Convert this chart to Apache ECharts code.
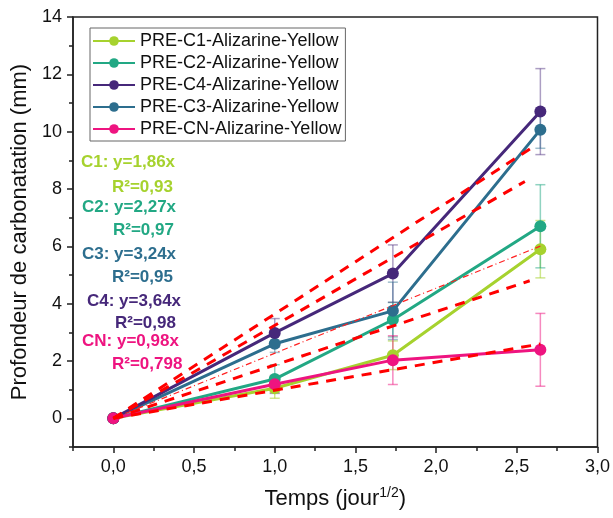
<!DOCTYPE html>
<html><head><meta charset="utf-8">
<script src="https://cdn.jsdelivr.net/npm/echarts@6/dist/echarts.min.js"></script>
<style>html,body{margin:0;padding:0;background:#fff}#c{width:613px;height:518px}</style>
</head><body><div id="c"></div>
<script>
// ---- data ----
const times = [0, 1, 1.732, 2.646];
const names = ['PRE-C1-Alizarine-Yellow','PRE-C2-Alizarine-Yellow','PRE-C4-Alizarine-Yellow','PRE-C3-Alizarine-Yellow','PRE-CN-Alizarine-Yellow'];
const c1 = [0, 1.05, 2.2, 5.9];
const c2 = [0, 1.37, 3.44, 6.7];
const c4 = [0, 2.98, 5.05, 10.7];
const c3 = [0, 2.6, 3.75, 10.07];
const cn = [0, 1.19, 2.03, 2.39];
const c1Err = [0, 0.35, 0.5, 1.0];
const c2Err = [0, 0.5, 0.6, 1.45];
const c4Err = [0, 0.5, 1.0, 1.5];
const c3Err = [0, 0.3, 1.0, 0.65];
const cnErr = [0, 0.3, 0.85, 1.27];
const fitSlopes = [1.86, 2.27, 3.64, 3.24, 0.98];
const fitEnd = [2.58, 2.646, 2.6, 2.55, 2.646];
const fitLabels = ['C1: y=1,86x','C2: y=2,27x','C4: y=3,64x','C3: y=3,24x','CN: y=0,98x'];
const r2Labels = ['R²=0,93','R²=0,97','R²=0,98','R²=0,95','R²=0,798'];
const xMajor = [0, 0.5, 1, 1.5, 2, 2.5, 3];
const xMinor = [-0.25, 0.25, 0.75, 1.25, 1.75, 2.25, 2.75];
const yMajor = [0, 2, 4, 6, 8, 10, 12, 14];
const yMinor = [-1, 1, 3, 5, 7, 9, 11, 13];

// ---- styles ----
const colors = ['#a6d22e', '#22a884', '#46287a', '#2d6e8e', '#ee1480'];
const errColors = ['rgba(166,210,46,0.55)','rgba(34,168,132,0.5)','rgba(70,40,122,0.45)','rgba(45,110,142,0.45)','rgba(238,20,128,0.5)'];
const FONT = '"Liberation Sans", Arial, sans-serif';
const vals = [c1, c2, c4, c3, cn];
const errs = [c1Err, c2Err, c4Err, c3Err, cnErr];

function errRender(params, api) {
  const x = api.value(0), lo = api.value(1), hi = api.value(2);
  if (hi - lo <= 0) return null;
  const p1 = api.coord([x, hi]), p2 = api.coord([x, lo]);
  const w = 5;
  const style = { stroke: api.visual('color'), lineWidth: 1.5 };
  return { type: 'group', children: [
    { type: 'line', shape: { x1: p1[0], y1: p1[1], x2: p2[0], y2: p2[1] }, style },
    { type: 'line', shape: { x1: p1[0] - w, y1: p1[1], x2: p1[0] + w, y2: p1[1] }, style },
    { type: 'line', shape: { x1: p2[0] - w, y1: p2[1], x2: p2[0] + w, y2: p2[1] }, style }
  ]};
}

const series = [];
vals.forEach((v, i) => {
  series.push({
    type: 'custom', name: 'err' + i, renderItem: errRender, z: 1,
    itemStyle: { color: errColors[i] },
    data: times.map((t, j) => [t, v[j] - errs[i][j], v[j] + errs[i][j]]),
    silent: true
  });
});
const drawOrder = [0, 1, 3, 2, 4];
drawOrder.forEach(i => {
  series.push({
    type: 'line', name: names[i], z: 3,
    data: times.map((t, j) => [t, vals[i][j]]),
    symbol: 'circle', symbolSize: 12,
    lineStyle: { color: colors[i], width: 3 },
    itemStyle: { color: colors[i] },
    emphasis: { disabled: true }
  });
});
fitSlopes.forEach((k, i) => {
  const thin = i === 1;
  series.push({
    type: 'line', name: 'fit' + i, z: 4, silent: true,
    data: [[0, 0], [fitEnd[i], k * fitEnd[i]]],
    symbol: 'none',
    lineStyle: thin ? { color: '#ff2020', width: 1.2, type: [6, 3, 1, 3] }
                    : { color: '#ff0000', width: 3, type: [10, 8] }
  });
});

const annot = [];
const annX1 = [81, 82, 87, 82, 82];
const annY1 = [164, 209, 303, 256, 343];
const annX2 = [112, 113, 115, 112, 112];
const annY2 = [189, 232, 325, 279, 366];
fitLabels.forEach((s, i) => {
  annot.push({ type: 'text', left: annX1[i], top: annY1[i] - 10, z: 10,
    style: { text: s, fill: colors[i], font: 'bold 17px ' + FONT } });
  annot.push({ type: 'text', left: annX2[i], top: annY2[i] - 10, z: 10,
    style: { text: r2Labels[i], fill: colors[i], font: 'bold 17px ' + FONT } });
});

const axisLineStyle = { color: '#222', width: 1.5 };
const option = {
  animation: false,
  backgroundColor: '#fff',
  grid: { left: 73, right: 15, top: 17, bottom: 71, show: true, borderColor: '#222', borderWidth: 1.5 },
  legend: {
    data: names, orient: 'vertical', left: 90, top: 28,
    borderColor: '#666', borderWidth: 1, padding: [4, 4, 3, 2],
    itemWidth: 42, itemHeight: 12, itemGap: 4,
    textStyle: { fontFamily: FONT, fontSize: 18, color: '#111' },
    selectedMode: false
  },
  xAxis: [{
    type: 'value', min: -0.25, max: 3,
    axisLine: { onZero: false, lineStyle: axisLineStyle },
    axisTick: { customValues: xMajor, length: 6, lineStyle: { color: '#222', width: 1.5 } },
    axisLabel: { customValues: xMajor, margin: 11, fontFamily: FONT, fontSize: 18, color: '#111',
      formatter: v => v.toFixed(1).replace('.', ',') },
    splitLine: { show: false },
    name: 'Temps (jour{sup|1/2})', nameLocation: 'middle', nameGap: 39,
    nameTextStyle: { fontFamily: FONT, fontSize: 22, color: '#111',
      rich: { sup: { fontFamily: FONT, fontSize: 14, color: '#111', padding: [0, 0, 11, 0] } } }
  }, {
    type: 'value', min: -0.25, max: 3, position: 'bottom',
    axisLine: { show: false, onZero: false },
    axisTick: { customValues: xMinor, length: 4, lineStyle: { color: '#222', width: 1.5 } },
    axisLabel: { show: false }, splitLine: { show: false }
  }],
  yAxis: [{
    type: 'value', min: -1, max: 14,
    axisLine: { show: true, onZero: false, lineStyle: axisLineStyle },
    axisTick: { show: true, customValues: yMajor, length: 6, lineStyle: { color: '#222', width: 1.5 } },
    axisLabel: { customValues: yMajor, margin: 11, fontFamily: FONT, fontSize: 18, color: '#111' },
    splitLine: { show: false },
    name: 'Profondeur de carbonatation (mm)', nameLocation: 'middle', nameGap: 40,
    nameTextStyle: { fontFamily: FONT, fontSize: 22, color: '#111' }
  }, {
    type: 'value', min: -1, max: 14, position: 'left',
    axisLine: { show: false, onZero: false },
    axisTick: { show: true, customValues: yMinor, length: 4, lineStyle: { color: '#222', width: 1.5 } },
    axisLabel: { show: false }, splitLine: { show: false }
  }],
  graphic: annot,
  series: series
};
const chart = echarts.init(document.getElementById('c'), null, { renderer: 'canvas' });
chart.setOption(option);
</script></body></html>
